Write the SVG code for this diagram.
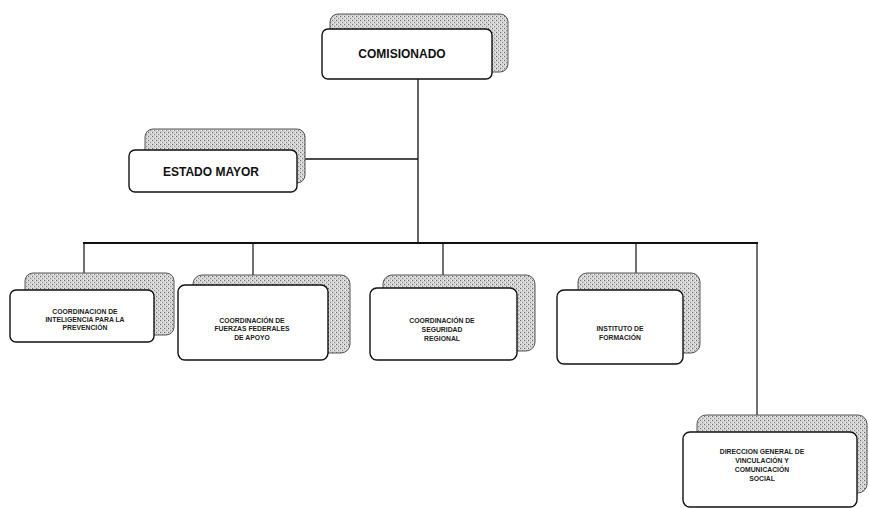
<svg xmlns="http://www.w3.org/2000/svg" width="869" height="508" viewBox="0 0 869 508">
<defs>
<pattern id="stip" width="4" height="4" patternUnits="userSpaceOnUse">
<rect width="4" height="4" fill="#d2d2d2"/>
<rect x="0" y="0" width="1" height="1" fill="#6a6a6a"/>
<rect x="2" y="2" width="1" height="1" fill="#8a8a8a"/>
<rect x="3" y="0" width="1" height="1" fill="#eeeeee"/>
<rect x="1" y="2" width="1" height="1" fill="#eeeeee"/>
</pattern>
</defs>
<style>
.sh{fill:url(#stip);stroke:#555;stroke-width:1}
.fr{fill:#fff;stroke:#111;stroke-width:1.4}
.big{font-family:"Liberation Sans",Arial,sans-serif;font-weight:bold;font-size:12px;fill:#111;text-anchor:middle}
.sm{font-family:"Liberation Sans",Arial,sans-serif;font-weight:bold;font-size:6.8px;fill:#222;text-anchor:middle}
.ln{stroke:#111;fill:none}
</style>
<rect width="869" height="508" fill="#fff"/>
<g id="connectors">
<line class="ln" x1="418" y1="79" x2="418" y2="243" stroke-width="1.3"/>
<line class="ln" x1="298" y1="159" x2="418" y2="159" stroke-width="1.3"/>
<line class="ln" x1="83" y1="243" x2="758" y2="243" stroke-width="2.2"/>
<line class="ln" x1="84" y1="243" x2="84" y2="274" stroke-width="1.2"/>
<line class="ln" x1="253" y1="243" x2="253" y2="276" stroke-width="1.2"/>
<line class="ln" x1="443" y1="243" x2="443" y2="276" stroke-width="1.2"/>
<line class="ln" x1="636" y1="243" x2="636" y2="274" stroke-width="1.2"/>
<line class="ln" x1="757" y1="243" x2="757" y2="416" stroke-width="1.2"/>
</g>
<g id="comisionado">
<rect class="sh" x="330" y="14" width="178" height="58" rx="8"/>
<rect class="fr" x="322" y="29" width="170" height="50" rx="6"/>
<text class="big" x="402" y="58">COMISIONADO</text>
</g>
<g id="estado-mayor">
<rect class="sh" x="145" y="129" width="160" height="54" rx="8"/>
<rect class="fr" x="129" y="150" width="168" height="42" rx="6"/>
<text class="big" x="211" y="176">ESTADO MAYOR</text>
</g>
<g id="coord-inteligencia">
<rect class="sh" x="25" y="273" width="149" height="62" rx="8"/>
<rect class="fr" x="10" y="290" width="144" height="52" rx="6"/>
<text class="sm" x="85" y="314">COORDINACION DE</text>
<text class="sm" x="85" y="322">INTELIGENCIA PARA LA</text>
<text class="sm" x="85" y="330" font-size="5">PREVENCIÓN</text>
</g>
<g id="coord-fuerzas">
<rect class="sh" x="193" y="275" width="157" height="78" rx="9"/>
<rect class="fr" x="178" y="285" width="150" height="75" rx="7"/>
<text class="sm" x="252" y="323">COORDINACIÓN DE</text>
<text class="sm" x="252" y="331">FUERZAS FEDERALES</text>
<text class="sm" x="252" y="340">DE APOYO</text>
</g>
<g id="coord-seguridad">
<rect class="sh" x="383" y="275" width="152" height="76" rx="9"/>
<rect class="fr" x="370" y="288" width="147" height="72" rx="7"/>
<text class="sm" x="442" y="323">COORDINACIÓN DE</text>
<text class="sm" x="442" y="332">SEGURIDAD</text>
<text class="sm" x="442" y="341">REGIONAL</text>
</g>
<g id="instituto">
<rect class="sh" x="578" y="273" width="122" height="80" rx="9"/>
<rect class="fr" x="557" y="290" width="126" height="74" rx="7"/>
<text class="sm" x="620" y="331">INSTITUTO DE</text>
<text class="sm" x="620" y="340">FORMACIÓN</text>
</g>
<g id="direccion-general">
<rect class="sh" x="697" y="415" width="170" height="78" rx="9"/>
<rect class="fr" x="683" y="432" width="174" height="75" rx="7"/>
<text class="sm" x="762" y="454">DIRECCION GENERAL DE</text>
<text class="sm" x="762" y="463">VINCULACIÓN Y</text>
<text class="sm" x="762" y="472">COMUNICACIÓN</text>
<text class="sm" x="762" y="481">SOCIAL</text>
</g>
</svg>
